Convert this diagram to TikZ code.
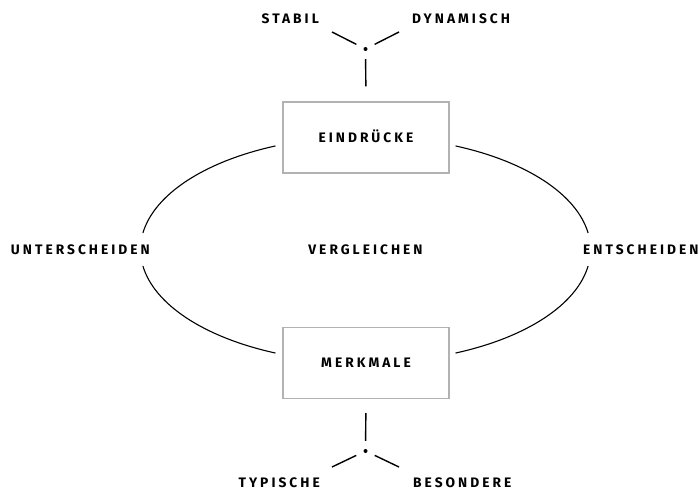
\documentclass[tikz,border=0pt]{standalone}
\usepackage{fontspec}
\setmainfont{Fira Sans}
\newfontfamily\lblfont[LetterSpace=22]{Fira Sans}
\usetikzlibrary{positioning}

\begin{document}
\begin{tikzpicture}[x=1bp,y=1bp,
  lbl/.style={font=\lblfont\bfseries\fontsize{13.8}{13.8}\selectfont,inner sep=0pt,text height=9.5bp,text depth=0pt},
  frame/.style={draw=black!30,line width=1.3bp,minimum width=166bp,minimum height=71bp},
  branch/.style={line width=1.4bp},
  ring/.style={line width=1.1bp},
  dot/.style={circle,fill,inner sep=0pt,minimum size=4bp}]
  \useasboundingbox (0,0) rectangle (699,491);
  \node[lbl,frame] (eindruecke) at (366,353.5) {EINDRÜCKE};
  \node[lbl,frame] (merkmale) at (366,128) {MERKMALE};
  \node[lbl] (vergleichen) at (365.5,241.5) {VERGLEICHEN};
  \node[lbl,anchor=east] (unterscheiden) at (150,241.5) {UNTERSCHEIDEN};
  \node[lbl,anchor=west] (entscheiden) at (583,241.5) {ENTSCHEIDEN};
  \draw[ring] (vergleichen.center) ++(113.6:225bp and 113bp) arc[start angle=113.6,end angle=171.6,x radius=225bp,y radius=113bp];
  \draw[ring] (vergleichen.center) ++(188.4:225bp and 113bp) arc[start angle=188.4,end angle=246.4,x radius=225bp,y radius=113bp];
  \draw[ring] (vergleichen.center) ++(66.4:225bp and 113bp) arc[start angle=66.4,end angle=8.4,x radius=225bp,y radius=113bp];
  \draw[ring] (vergleichen.center) ++(-8.4:225bp and 113bp) arc[start angle=-8.4,end angle=-66.4,x radius=225bp,y radius=113bp];
  \node[dot] (topdot) at (365.5,442) {};
  \coordinate (stabiltip) at (332,459);
  \coordinate (dynamischtip) at (399,459);
  \node[lbl,anchor=east] (stabil) at (319,472) {STABIL};
  \node[lbl,anchor=west] (dynamisch) at (412,472) {DYNAMISCH};
  \draw[branch,shorten <=8bp] (topdot) -- (stabiltip);
  \draw[branch,shorten <=8bp] (topdot) -- (dynamischtip);
  \draw[branch,shorten <=8bp,shorten >=15bp] (topdot) -- (eindruecke.north);
  \node[dot] (botdot) at (365.5,40) {};
  \coordinate (typischetip) at (332,24);
  \coordinate (besonderetip) at (399,24);
  \node[lbl,anchor=east] (typische) at (320,8) {TYPISCHE};
  \node[lbl,anchor=west] (besondere) at (413,8) {BESONDERE};
  \draw[branch,shorten <=8bp] (botdot) -- (typischetip);
  \draw[branch,shorten <=8bp] (botdot) -- (besonderetip);
  \draw[branch,shorten <=14bp,shorten >=8bp] (merkmale.south) -- (botdot);
\end{tikzpicture}
\end{document}
